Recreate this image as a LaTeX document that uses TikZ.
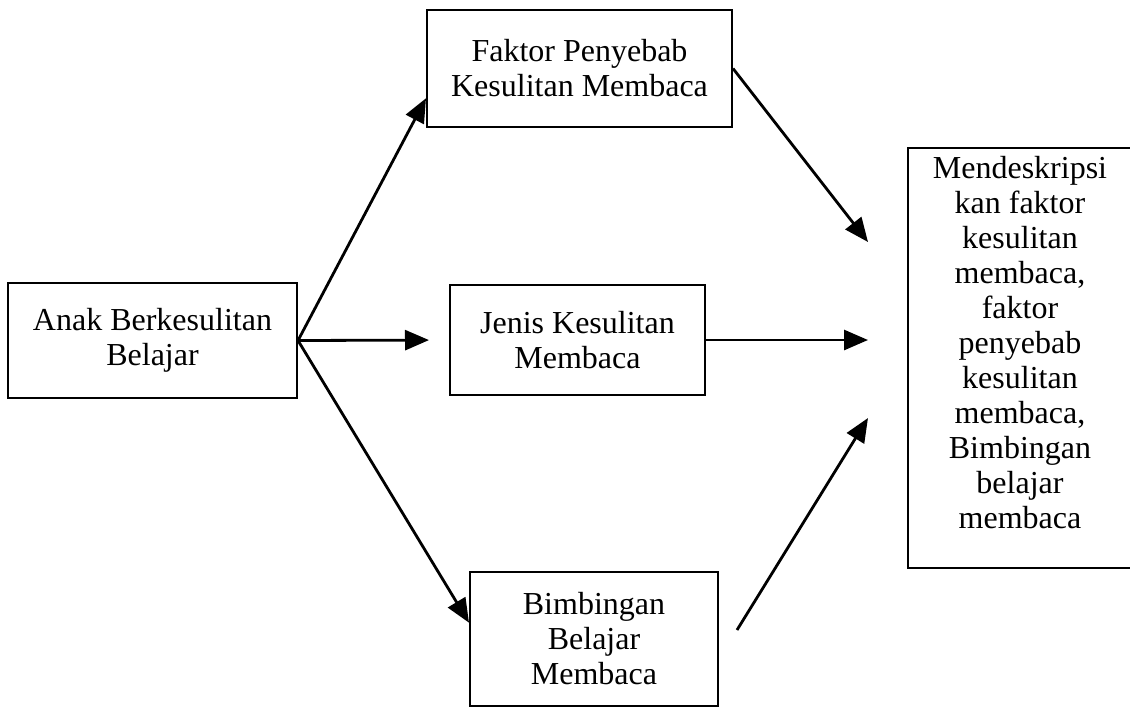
\documentclass[tikz,border=0pt]{standalone}
\usepackage{fontspec}
\setmainfont{Liberation Serif}
\usetikzlibrary{arrows.meta,calc}
\begin{document}
\begin{tikzpicture}[x=0.5pt,y=-0.5pt,
  box/.style={draw,line width=1pt,align=center,inner sep=0pt,
    font=\fontsize{16}{17.5}\selectfont},
  arr/.style={line width=1.4pt,-{Triangle[length=12pt,width=10pt]}}]
  \useasboundingbox (0,0) rectangle (1130,708);
  \clip (0,0) rectangle (1130,708);
  \node[box,minimum width=144.5pt,minimum height=57.5pt] (anak) at (152.5,340.5)
    {Anak Berkesulitan\\Belajar};
  \node[box,minimum width=152.5pt,minimum height=58.5pt] (faktor) at (579.5,68.5)
    {Faktor Penyebab\\Kesulitan Membaca};
  \node[box,minimum width=127.5pt,minimum height=55pt] (jenis) at (577.5,340)
    {Jenis Kesulitan\\Membaca};
  \node[box,minimum width=124pt,minimum height=67pt] (bimbingan) at (594,639)
    {Bimbingan\\Belajar\\Membaca};
  \node[box,minimum width=112pt,minimum height=210pt] (hasil) at (1020,358)
    {Mendeskripsi\\kan faktor\\kesulitan\\membaca,\\faktor\\penyebab\\kesulitan\\membaca,\\Bimbingan\\belajar\\membaca\\[-2pt]};
  % ujung panah bebas
  \coordinate (t1) at (868,242);
  \coordinate (t2) at (868,340);
  \coordinate (s3) at (737,630);
  \coordinate (t3) at (868,418);
  \draw[arr] (anak.east) -- ($(faktor.west)!0.5!(faktor.south west)$);
  \draw[arr,shorten >=10pt] (anak.east) -- (jenis.west);
  \draw[arr] (anak.east) -- ($(bimbingan.north west)!0.38!(bimbingan.south west)$);
  \draw[arr] (faktor.east) -- (t1);
  \draw[arr] (jenis.east) -- (t2);
  \draw[arr] (s3) -- (t3);
\end{tikzpicture}
\end{document}
